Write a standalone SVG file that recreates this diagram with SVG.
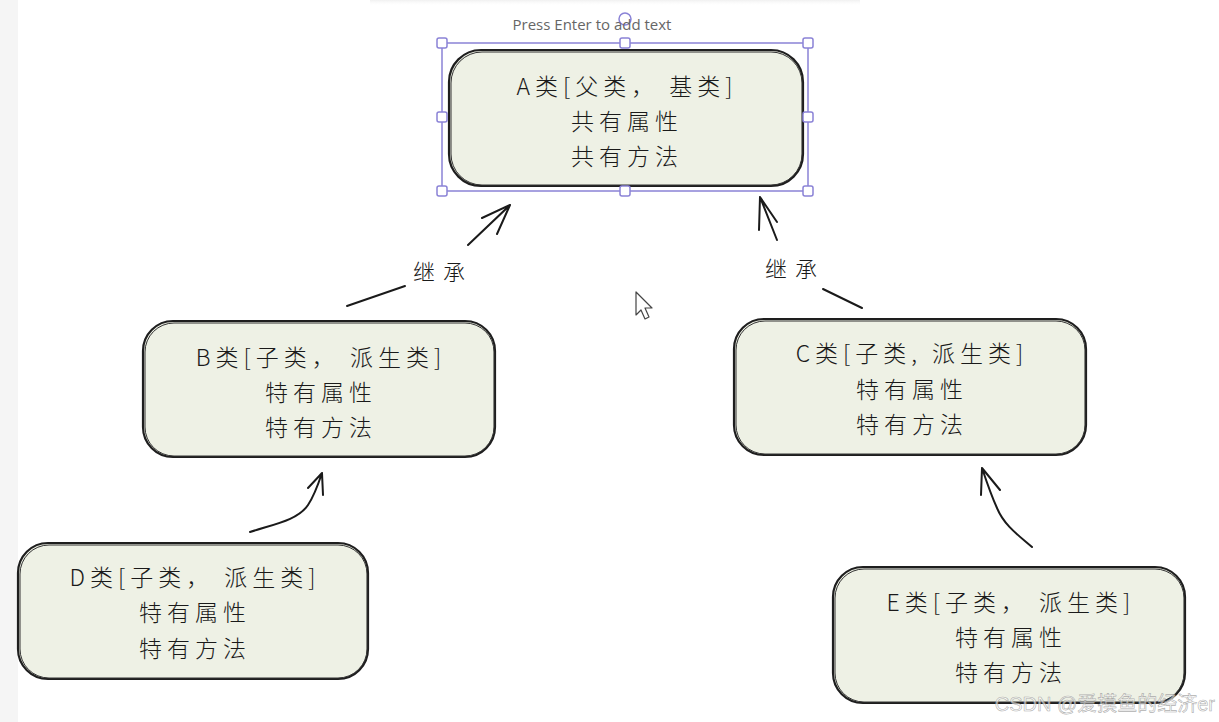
<svg xmlns="http://www.w3.org/2000/svg" width="1219" height="722" viewBox="0 0 1219 722">
<defs>
<style>
.box{fill:#eef1e5;stroke:#1e1e1e;stroke-width:2.2}
.box2{fill:none;stroke:#333;stroke-width:1}
.t{font-family:"Noto Sans CJK SC","Noto Sans",sans-serif;font-size:23px;font-weight:300;fill:#1a1a1a;text-anchor:middle;letter-spacing:5px}
.lbl{font-family:"Noto Sans CJK SC","Noto Sans",sans-serif;font-size:22px;font-weight:300;fill:#1a1a1a;text-anchor:middle;letter-spacing:8px}
.ln{fill:none;stroke:#1a1a1a;stroke-width:2;stroke-linecap:round;stroke-linejoin:round}
.sel{fill:#fff;stroke:#8a82d6;stroke-width:1.5}
</style>
<linearGradient id="sh" x1="0" y1="0" x2="0" y2="1">
<stop offset="0" stop-color="#f0f0f0"/><stop offset="1" stop-color="#ffffff" stop-opacity="0"/>
</linearGradient>
</defs>
<rect width="1219" height="722" fill="#ffffff"/>
<rect x="0" y="0" width="18" height="722" fill="#f5f5f5"/>
<rect x="370" y="0" width="490" height="6" fill="url(#sh)"/>

<g id="connectors">
<path class="ln" d="M347 306 L405 286" stroke="#666" stroke-width="3"/>
<path class="ln" d="M468 245 L510 205 M510 205 L482 218 M510 205 L497 234"/>
<text class="lbl" x="443" y="280">继承</text>
<path class="ln" d="M777 240 L760 197 M760 197 L759 230 M760 197 L777 222"/>
<text class="lbl" x="795" y="277">继承</text>
<path class="ln" d="M823 289 L862 308"/>
<path class="ln" d="M250 532 C275 524 298 520 308 505 C314 496 318 485 322 473 M322 473 L308 488 M322 473 L323 495"/>
<path class="ln" d="M1032 547 C1018 535 1004 525 997 508 C991 495 986 480 982 468 M982 468 L981 495 M982 468 L1000 490"/>
</g>

<g id="nodeA">
<rect class="box" x="449" y="50" width="354" height="136" rx="32"/>
<rect class="box2" x="451" y="52" width="351" height="133" rx="31"/>
<text class="t" x="627" y="95">A类[父类， 基类]</text>
<text class="t" x="627" y="130">共有属性</text>
<text class="t" x="627" y="165">共有方法</text>
</g>
<g id="selection">
<rect x="442" y="43" width="366" height="148" fill="none" stroke="#8a82d6" stroke-width="1.5"/>
<circle class="sel" cx="625" cy="19" r="6"/>
<rect class="sel" x="437" y="38" width="10" height="10" rx="2"/>
<rect class="sel" x="620" y="38" width="10" height="10" rx="2"/>
<rect class="sel" x="803" y="38" width="10" height="10" rx="2"/>
<rect class="sel" x="437" y="112" width="10" height="10" rx="2"/>
<rect class="sel" x="803" y="112" width="10" height="10" rx="2"/>
<rect class="sel" x="437" y="186" width="10" height="10" rx="2"/>
<rect class="sel" x="620" y="186" width="10" height="10" rx="2"/>
<rect class="sel" x="803" y="186" width="10" height="10" rx="2"/>
<text x="592" y="30" font-family="Open Sans, Liberation Sans, sans-serif" font-size="15" fill="#666" text-anchor="middle">Press Enter to add text</text>
</g>

<g id="nodeB">
<rect class="box" x="143" y="321" width="352" height="136" rx="30"/>
<rect class="box2" x="145" y="323" width="349" height="133" rx="29"/>
<text class="t" x="321" y="366">B类[子类， 派生类]</text>
<text class="t" x="321" y="401">特有属性</text>
<text class="t" x="321" y="436">特有方法</text>
</g>

<g id="nodeC">
<rect class="box" x="734" y="319" width="352" height="136" rx="30"/>
<rect class="box2" x="736" y="321" width="349" height="133" rx="29"/>
<text class="t" x="912" y="362">C类[子类, 派生类]</text>
<text class="t" x="912" y="398">特有属性</text>
<text class="t" x="912" y="433">特有方法</text>
</g>

<g id="nodeD">
<rect class="box" x="18" y="543" width="350" height="136" rx="30"/>
<rect class="box2" x="20" y="545" width="347" height="133" rx="29"/>
<text class="t" x="195" y="586">D类[子类， 派生类]</text>
<text class="t" x="195" y="621">特有属性</text>
<text class="t" x="195" y="657">特有方法</text>
</g>

<g id="nodeE">
<rect class="box" x="833" y="567" width="352" height="136" rx="30"/>
<rect class="box2" x="835" y="569" width="349" height="133" rx="29"/>
<text class="t" x="1011" y="611">E类[子类， 派生类]</text>
<text class="t" x="1011" y="646">特有属性</text>
<text class="t" x="1011" y="681">特有方法</text>
</g>

<path d="M636 292 L636 315 L641 310 L645 319 L649 317 L645 308 L652 308 Z" fill="#fff" stroke="#444" stroke-width="1.2" stroke-linejoin="round"/>

<text x="1215" y="711" font-family="Liberation Sans, Noto Sans CJK SC, sans-serif" font-size="20" fill="#ffffff" fill-opacity="0.6" stroke="#999" stroke-width="0.6" stroke-opacity="0.8" text-anchor="end">CSDN @爱摸鱼的经济er</text>
</svg>
